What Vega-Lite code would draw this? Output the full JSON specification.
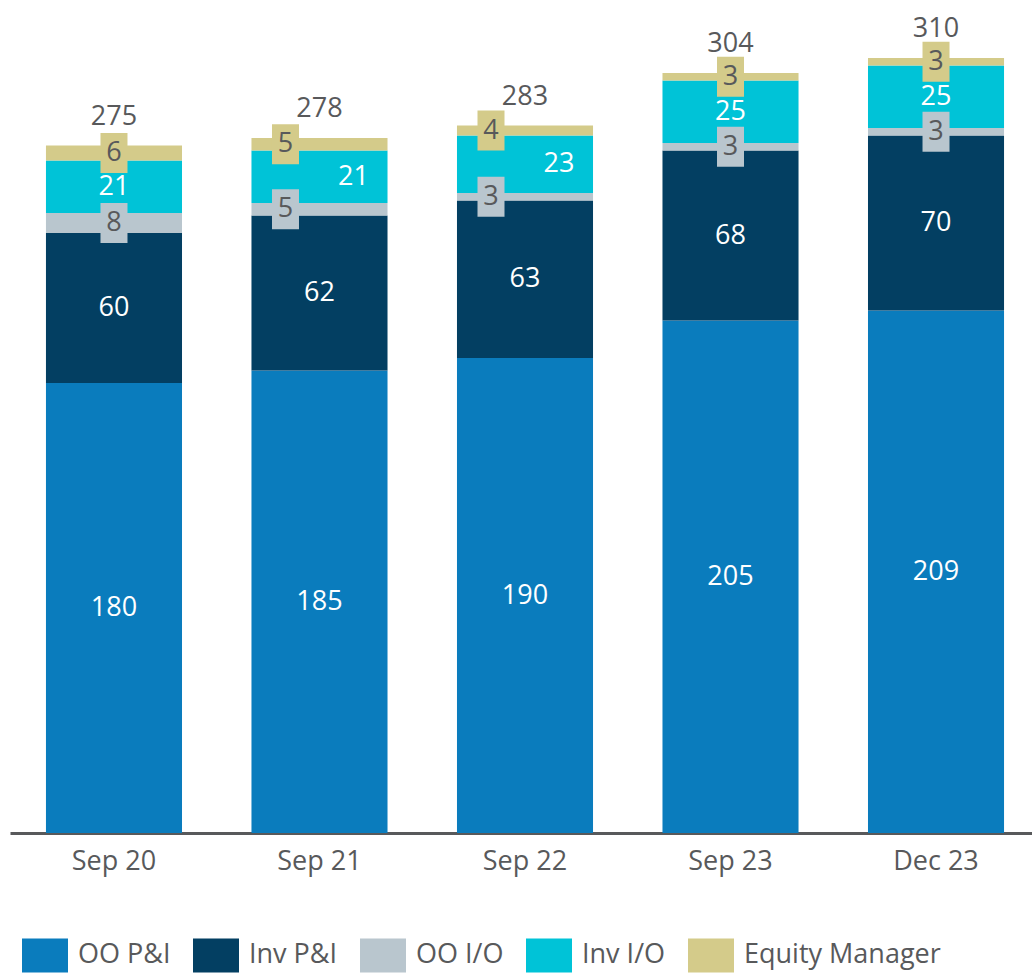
{
  "$schema": "https://vega.github.io/schema/vega-lite/v6.json",
  "width": 1030,
  "height": 825,
  "autosize": {"type": "none"},
  "padding": {"left": 10, "top": 8, "right": 0, "bottom": 140},
  "config": {
    "font": "Open Sans",
    "view": {"stroke": null},
    "axis": {"grid": false},
    "legend": {"padding": 0}
  },
  "data": {
    "values": [
      {"period": "Sep 20", "series": "OO P&I", "value": 180, "order": 1},
      {"period": "Sep 20", "series": "Inv P&I", "value": 60, "order": 2},
      {"period": "Sep 20", "series": "OO I/O", "value": 8, "order": 3},
      {"period": "Sep 20", "series": "Inv I/O", "value": 21, "order": 4},
      {"period": "Sep 20", "series": "Equity Manager", "value": 6, "order": 5},
      {"period": "Sep 21", "series": "OO P&I", "value": 185, "order": 1},
      {"period": "Sep 21", "series": "Inv P&I", "value": 62, "order": 2},
      {"period": "Sep 21", "series": "OO I/O", "value": 5, "order": 3},
      {"period": "Sep 21", "series": "Inv I/O", "value": 21, "order": 4},
      {"period": "Sep 21", "series": "Equity Manager", "value": 5, "order": 5},
      {"period": "Sep 22", "series": "OO P&I", "value": 190, "order": 1},
      {"period": "Sep 22", "series": "Inv P&I", "value": 63, "order": 2},
      {"period": "Sep 22", "series": "OO I/O", "value": 3, "order": 3},
      {"period": "Sep 22", "series": "Inv I/O", "value": 23, "order": 4},
      {"period": "Sep 22", "series": "Equity Manager", "value": 4, "order": 5},
      {"period": "Sep 23", "series": "OO P&I", "value": 205, "order": 1},
      {"period": "Sep 23", "series": "Inv P&I", "value": 68, "order": 2},
      {"period": "Sep 23", "series": "OO I/O", "value": 3, "order": 3},
      {"period": "Sep 23", "series": "Inv I/O", "value": 25, "order": 4},
      {"period": "Sep 23", "series": "Equity Manager", "value": 3, "order": 5},
      {"period": "Dec 23", "series": "OO P&I", "value": 209, "order": 1},
      {"period": "Dec 23", "series": "Inv P&I", "value": 70, "order": 2},
      {"period": "Dec 23", "series": "OO I/O", "value": 3, "order": 3},
      {"period": "Dec 23", "series": "Inv I/O", "value": 25, "order": 4},
      {"period": "Dec 23", "series": "Equity Manager", "value": 3, "order": 5}
    ]
  },
  "transform": [
    {"stack": "value", "groupby": ["period"], "sort": [{"field": "order", "order": "ascending"}], "as": ["y0", "y1"]},
    {"calculate": "(datum.y0 + datum.y1) / 2", "as": "mid"},
    {"calculate": "datum.mid - 8", "as": "bLow"},
    {"calculate": "datum.mid + 8", "as": "bHigh"},
    {"calculate": "datum.series === 'OO I/O' || datum.series === 'Equity Manager'", "as": "badged"},
    {"calculate": "(datum.period === 'Sep 21' || datum.period === 'Sep 22') ? (datum.badged ? -1 : (datum.series === 'Inv I/O' ? 1 : 0)) : 0", "as": "side"}
  ],
  "encoding": {
    "x": {
      "field": "period",
      "type": "nominal",
      "sort": ["Sep 20", "Sep 21", "Sep 22", "Sep 23", "Dec 23"],
      "scale": {"paddingInner": 0.338, "paddingOuter": 0.175},
      "axis": {
        "title": null,
        "labelAngle": 0,
        "ticks": false,
        "domainColor": "#58595b",
        "domainWidth": 3,
        "labelFontSize": 27,
        "labelColor": "#58595b",
        "labelPadding": 15
      }
    }
  },
  "layer": [
    {
      "mark": {"type": "bar"},
      "encoding": {
        "y": {"field": "y0", "type": "quantitative", "scale": {"domain": [0, 330], "nice": false, "zero": true}, "axis": null},
        "y2": {"field": "y1"},
        "color": {
          "field": "series",
          "type": "nominal",
          "scale": {
            "domain": ["OO P&I", "Inv P&I", "OO I/O", "Inv I/O", "Equity Manager"],
            "range": ["#0a7cbd", "#033f62", "#b9c6ce", "#00c3d7", "#d4cb8a"]
          },
          "legend": {
            "title": null,
            "orient": "none",
            "legendX": 12,
            "legendY": 924,
            "direction": "horizontal",
            "columns": 5,
            "symbolType": "M-1,-0.74L1,-0.74L1,0.74L-1,0.74Z",
            "symbolSize": 2116,
            "symbolStrokeWidth": 0,
            "symbolOpacity": 1,
            "labelFontSize": 27,
            "labelColor": "#58595b",
            "labelOffset": 10,
            "columnPadding": 22,
            "labelLimit": 400
          }
        }
      }
    },
    {
      "transform": [{"filter": "datum.badged && datum.side === 0"}],
      "mark": {"type": "bar", "width": 27},
      "encoding": {
        "y": {"field": "bLow", "type": "quantitative"},
        "y2": {"field": "bHigh"},
        "color": {"field": "series", "type": "nominal", "legend": null}
      }
    },
    {
      "transform": [{"filter": "datum.badged && datum.side === -1"}],
      "mark": {"type": "bar", "width": 27, "xOffset": -34},
      "encoding": {
        "y": {"field": "bLow", "type": "quantitative"},
        "y2": {"field": "bHigh"},
        "color": {"field": "series", "type": "nominal", "legend": null}
      }
    },
    {
      "transform": [{"filter": "!datum.badged && datum.side === 0"}],
      "mark": {"type": "text", "fontSize": 27, "color": "white", "baseline": "middle"},
      "encoding": {
        "y": {"field": "mid", "type": "quantitative"},
        "text": {"field": "value", "type": "quantitative"}
      }
    },
    {
      "transform": [{"filter": "!datum.badged && datum.side === 1"}],
      "mark": {"type": "text", "fontSize": 27, "color": "white", "baseline": "middle", "dx": 34},
      "encoding": {
        "y": {"field": "mid", "type": "quantitative"},
        "text": {"field": "value", "type": "quantitative"}
      }
    },
    {
      "transform": [{"filter": "datum.badged && datum.side === 0"}],
      "mark": {"type": "text", "fontSize": 27, "color": "#58595b", "baseline": "middle"},
      "encoding": {
        "y": {"field": "mid", "type": "quantitative"},
        "text": {"field": "value", "type": "quantitative"}
      }
    },
    {
      "transform": [{"filter": "datum.badged && datum.side === -1"}],
      "mark": {"type": "text", "fontSize": 27, "color": "#58595b", "baseline": "middle", "dx": -34},
      "encoding": {
        "y": {"field": "mid", "type": "quantitative"},
        "text": {"field": "value", "type": "quantitative"}
      }
    },
    {
      "transform": [{"aggregate": [{"op": "sum", "field": "value", "as": "total"}], "groupby": ["period"]}],
      "mark": {"type": "text", "fontSize": 27, "color": "#58595b", "baseline": "alphabetic", "dy": -21},
      "encoding": {
        "y": {"field": "total", "type": "quantitative"},
        "text": {"field": "total", "type": "quantitative"}
      }
    }
  ]
}
